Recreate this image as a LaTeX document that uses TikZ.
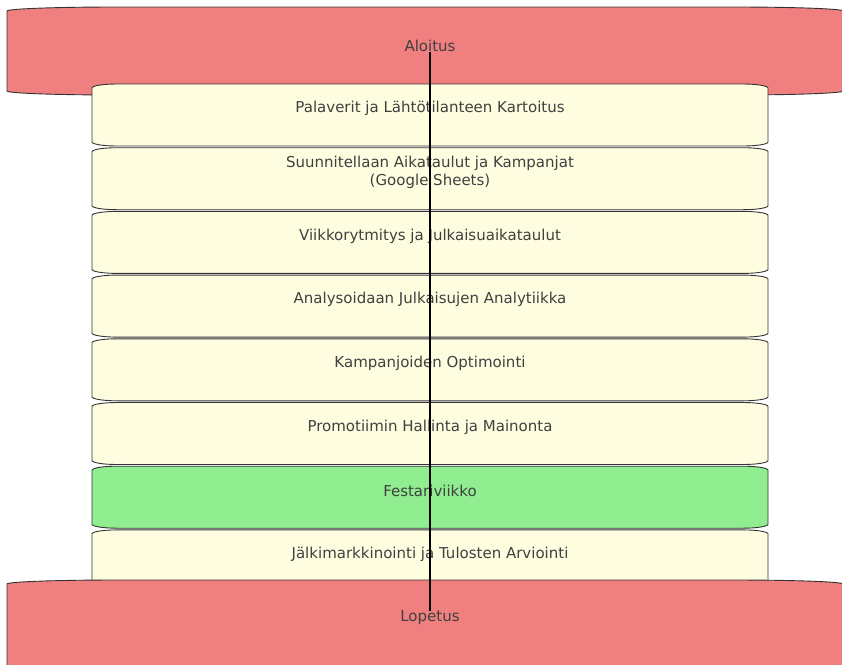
\documentclass[tikz,border=0pt]{standalone}
\usepackage{fontspec}
\setmainfont{DejaVu Sans}
\usepackage{xcolor}
\usetikzlibrary{positioning,calc,backgrounds}
\definecolor{endred}{HTML}{F08080}
\definecolor{stageyellow}{HTML}{FFFDE0}
\definecolor{festgreen}{HTML}{90EE90}
\definecolor{labelgray}{HTML}{404040}

% lens-shaped box: #1 style, #2 south west, #3 north east, #4 x radius, #5 y radius
\newcommand{\lensbox}[5]{%
  \path[#1] let \p1=#2, \p2=#3 in
    (\x1,\y1+#5) -- (\x1,\y2-#5)
    arc[start angle=180,end angle=90,x radius=#4,y radius=#5] -- (\x2-#4,\y2)
    arc[start angle=90,end angle=0,x radius=#4,y radius=#5] -- (\x2,\y1+#5)
    arc[start angle=0,end angle=-90,x radius=#4,y radius=#5] -- (\x1+#4,\y1)
    arc[start angle=270,end angle=180,x radius=#4,y radius=#5] -- cycle;}

\begin{document}
\begin{tikzpicture}[
  x=1pt,y=1pt,
  node distance=63.7pt,on grid,
  stage/.style={font=\fontsize{15}{18}\selectfont,text=labelgray,align=center},
  shell/.style={draw=black!80,line width=0.9pt},
  flow/.style={draw=black,line width=1.8pt}
]
\clip (0,0) rectangle (842,-664);
\useasboundingbox (0,0) rectangle (842,-664);

\node[stage] (start) at (430,-46) {Aloitus};
\node[stage] (s1) at (430,-108.5) {Palaverit ja Lähtötilanteen Kartoitus};
\node[stage,below=of s1] (s2) {Suunnitellaan Aikataulut ja Kampanjat\\(Google Sheets)};
\node[stage,below=of s2] (s3) {Viikkorytmitys ja Julkaisuaikataulut};
\node[stage,below=of s3] (s4) {Analysoidaan Julkaisujen Analytiikka};
\node[stage,below=of s4] (s5) {Kampanjoiden Optimointi};
\node[stage,below=of s5] (s6) {Promotiimin Hallinta ja Mainonta};
\node[stage,below=of s6] (s7) {Festariviikko};
\node[stage,below=of s7] (s8) {Jälkimarkkinointi ja Tulosten Arviointi};
\node[stage] (stop) at (430,-618) {Lopetus};

\begin{scope}[on background layer]
  \lensbox{shell,fill=endred}{(7,-95)}{(843,-7)}{110}{4}
  \foreach \s/\c in {s1/stageyellow,s2/stageyellow,s3/stageyellow,s4/stageyellow,
      s5/stageyellow,s6/stageyellow,s7/festgreen,s8/stageyellow}
    \lensbox{shell,fill=\c}{($(\s)+(-338,-37.5)$)}{($(\s)+(338,24.5)$)}{25}{4};
  \lensbox{shell,fill=endred}{(7,-700)}{(843,-580)}{110}{4}
\end{scope}

\draw[flow,shorten <=-3pt,shorten >=-4pt] (start.south) -- (stop.north);
\end{tikzpicture}
\end{document}
